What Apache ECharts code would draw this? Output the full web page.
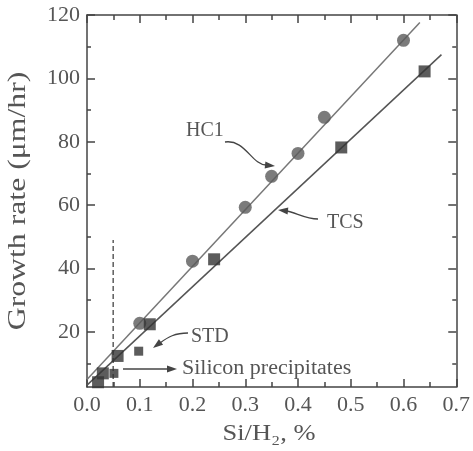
<!DOCTYPE html>
<html>
<head>
<meta charset="utf-8">
<script src="https://cdn.jsdelivr.net/npm/echarts@6/dist/echarts.min.js"></script>
<style>html,body{margin:0;padding:0;background:#fff}#c{width:473px;height:451px}</style>
</head>
<body>
<div id="c"></div>
<script>
// ---- data ----
var hclPoints = [[0.10, 22.7], [0.20, 42.3], [0.30, 59.3], [0.35, 69.1], [0.40, 76.3], [0.45, 87.7], [0.60, 112.0]];
var tcsPoints = [[0.021, 4.1], [0.030, 6.9], [0.058, 12.4], [0.119, 22.4], [0.241, 42.9], [0.482, 78.2], [0.640, 102.2]];
var stdPoints = [[0.051, 6.9], [0.098, 13.9]];
var hclFit = [[0.0, 5.0], [0.631, 117.6]];
var tcsFit = [[0.0, 3.2], [0.672, 107.5]];
var dashLine = [[0.0496, 2.6], [0.0496, 49]];
var yMajorTicks = [20, 40, 60, 80, 100, 120];
var yMinorTicks = [10, 30, 50, 70, 90, 110];
var xTitle = 'Si/H\u2082, %';
var yTitle = 'Growth rate (\u03bcm/hr)';

var FONT = "'Liberation Serif', 'DejaVu Serif', serif";
var AX = '#444';
var TXT = '#555';
var YMIN = 2.6, YMAX = 120;

function yAx(pos, ticks, len, showLine, showLabel) {
  return {
    type: 'value', position: pos, min: YMIN, max: YMAX,
    axisLine: {show: showLine, lineStyle: {color: AX, width: 1.5}},
    axisTick: {show: true, inside: true, length: len, customValues: ticks, lineStyle: {color: AX, width: 1.5}},
    axisLabel: {show: showLabel, customValues: ticks, fontFamily: FONT, fontSize: 22, color: TXT, margin: 7},
    splitLine: {show: false}
  };
}
function xAx(pos, showLabel) {
  return {
    type: 'value', position: pos, min: 0, max: 0.7, interval: 0.1,
    axisLine: {show: true, lineStyle: {color: AX, width: 1.5}},
    axisTick: {show: true, inside: true, length: 8, lineStyle: {color: AX, width: 1.5}},
    minorTick: {show: true, splitNumber: 2, length: 5, lineStyle: {color: AX, width: 1.5}},
    axisLabel: {show: showLabel, fontFamily: FONT, fontSize: 22, color: TXT, margin: 7,
      formatter: function (v) { return v.toFixed(1); }},
    splitLine: {show: false}, minorSplitLine: {show: false}
  };
}

var chart = echarts.init(document.getElementById('c'), null, {renderer: 'canvas'});

function arrowHead(tx, ty, fx, fy, len, wid) {
  var dx = tx - fx, dy = ty - fy, L = Math.sqrt(dx * dx + dy * dy);
  dx /= L; dy /= L;
  var bx = tx - dx * len, by = ty - dy * len;
  return {type: 'polygon', z: 100,
    shape: {points: [[tx, ty], [bx - dy * wid, by + dx * wid], [bx + dy * wid, by - dx * wid]]},
    style: {fill: '#444'}};
}
function curve(x1, y1, c1x, c1y, c2x, c2y, x2, y2) {
  return {type: 'bezierCurve', z: 100,
    shape: {x1: x1, y1: y1, cpx1: c1x, cpy1: c1y, cpx2: c2x, cpy2: c2y, x2: x2, y2: y2},
    style: {stroke: '#444', lineWidth: 1.3, fill: null}};
}
function label(t, x, y, sx) {
  return {type: 'text', z: 100, x: x, y: y, scaleX: sx || 1,
    style: {text: t, font: '20px ' + FONT, fill: TXT, align: 'left', verticalAlign: 'middle'}};
}

chart.setOption({
  animation: false,
  grid: {left: 87, top: 15, right: 14, bottom: 64, containLabel: false},
  xAxis: [xAx('bottom', true), xAx('top', false)],
  yAxis: [
    yAx('left', yMajorTicks, 8, true, true),
    yAx('left', yMinorTicks, 4, false, false),
    yAx('right', yMajorTicks, 8, true, false),
    yAx('right', yMinorTicks, 4, false, false)
  ],
  series: [
    {type: 'line', data: hclFit, symbol: 'none', clip: false, lineStyle: {color: '#777', width: 1.5}, z: 2},
    {type: 'line', data: tcsFit, symbol: 'none', clip: false, lineStyle: {color: '#555', width: 1.5}, z: 2},
    {type: 'line', data: dashLine, symbol: 'none', clip: false, lineStyle: {color: '#444', width: 1.3, type: [5, 3]}, z: 2},
    {type: 'scatter', data: hclPoints, symbol: 'circle', symbolSize: 13, clip: false, itemStyle: {color: '#5a5a5a'}, z: 5},
    {type: 'scatter', data: tcsPoints, symbol: 'rect', symbolSize: 12, clip: false, itemStyle: {color: '#333'}, z: 5},
    {type: 'scatter', data: stdPoints, symbol: 'rect', symbolSize: 9, clip: false, itemStyle: {color: '#333'}, z: 5}
  ],
  graphic: [
    {type: 'text', z: 100, x: 18, y: 201, rotation: Math.PI / 2, scaleX: 1.27,
      style: {text: yTitle, font: '25px ' + FONT, fill: TXT, align: 'center', verticalAlign: 'middle'}},
    {type: 'text', z: 100, x: 269, y: 434, scaleX: 1.15,
      style: {text: xTitle, font: '23px ' + FONT, fill: TXT, align: 'center', verticalAlign: 'middle'}},
    label('HC1', 186, 131),
    curve(225, 142, 245, 139, 252, 165, 266, 165),
    arrowHead(275, 166, 265, 165, 10, 3.5),
    label('TCS', 327, 223),
    curve(318, 219, 305, 219, 295, 212, 286, 211),
    arrowHead(278, 210, 288, 211, 10, 3.5),
    label('STD', 191, 337),
    curve(188, 333, 175, 333, 168, 337, 160, 343),
    arrowHead(153, 348, 161, 342, 10, 3.5),
    label('Silicon precipitates', 182, 369, 1.1),
    {type: 'line', z: 100, shape: {x1: 123, y1: 369, x2: 168, y2: 369}, style: {stroke: '#444', lineWidth: 1.3}},
    arrowHead(177, 369, 167, 369, 10, 3.5)
  ]
});
</script>
</body>
</html>
